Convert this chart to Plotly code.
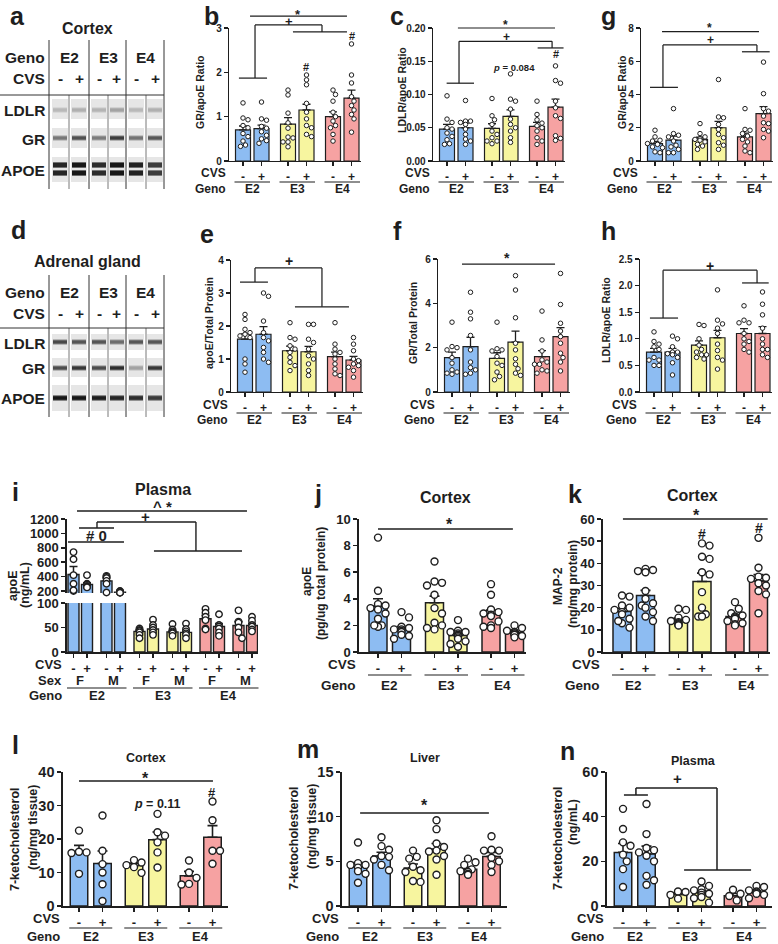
import plotly.graph_objects as go

W, H = 778, 944
FONT = "Liberation Sans, Arial, Helvetica, sans-serif"
INK = "#1e1e1e"
BLUE, YELLOW, PINK = "#8dbcf2", "#f7f59f", "#f6a2a2"

GENO = ["E2", "E3", "E4"]
CVS = ["-", "+"]
SEX = ["F", "M"]
PROTEINS = ["LDLR", "GR", "APOE"]

# ---------------- data ----------------
# b  GR/apoE ratio (cortex)
b_mean = [0.70, 0.73, 0.83, 1.15, 1.00, 1.42]
b_sem = [0.09, 0.08, 0.15, 0.13, 0.11, 0.18]
b_pts = [[1.31, 0.97, 0.93, 0.80, 0.75, 0.62, 0.55, 0.45, 0.36, 0.33],
         [1.33, 0.95, 0.92, 0.78, 0.74, 0.66, 0.58, 0.50, 0.46, 0.40],
         [1.60, 1.49, 1.08, 0.86, 0.74, 0.54, 0.52, 0.43, 0.43, 0.32],
         [1.94, 1.83, 1.72, 1.30, 1.10, 0.95, 0.80, 0.75, 0.60, 0.55],
         [1.60, 1.50, 1.35, 1.10, 1.00, 0.90, 0.80, 0.75, 0.60, 0.45],
         [2.64, 1.94, 1.76, 1.45, 1.35, 1.25, 1.15, 1.05, 0.95, 0.65]]
b_ticks = [0, 1, 2, 3]

# c  LDLR/apoE ratio (cortex)
c_mean = [0.048, 0.050, 0.049, 0.067, 0.052, 0.081]
c_sem = [0.007, 0.007, 0.007, 0.010, 0.006, 0.012]
c_pts = [[0.098, 0.063, 0.058, 0.050, 0.048, 0.042, 0.037, 0.032, 0.026, 0.025],
         [0.091, 0.060, 0.060, 0.058, 0.055, 0.048, 0.040, 0.033, 0.030, 0.025],
         [0.094, 0.068, 0.062, 0.055, 0.045, 0.040, 0.035, 0.030, 0.030, 0.026],
         [0.131, 0.093, 0.090, 0.078, 0.063, 0.055, 0.050, 0.045, 0.035, 0.028],
         [0.090, 0.070, 0.062, 0.057, 0.053, 0.050, 0.045, 0.035, 0.030, 0.025],
         [0.143, 0.121, 0.117, 0.090, 0.080, 0.068, 0.064, 0.038, 0.034, 0.031]]
c_ticks = [0, 0.05, 0.10, 0.15, 0.20]

# g  GR/apoE ratio
g_mean = [1.05, 1.25, 1.30, 2.00, 1.45, 2.85]
g_sem = [0.13, 0.25, 0.13, 0.38, 0.23, 0.42]
g_pts = [[1.85, 1.45, 1.25, 1.20, 1.05, 1.00, 0.85, 0.80, 0.55, 0.50],
         [3.15, 1.65, 1.55, 1.45, 1.20, 0.95, 0.85, 0.70, 0.50, 0.50],
         [2.25, 1.65, 1.45, 1.35, 1.30, 1.25, 1.15, 1.00, 0.90, 0.70],
         [4.90, 2.65, 2.60, 2.20, 1.90, 1.60, 1.40, 1.10, 0.95, 0.70],
         [3.15, 1.90, 1.85, 1.65, 1.50, 1.30, 1.15, 0.90, 0.60, 0.50],
         [5.95, 4.05, 3.15, 3.00, 2.70, 2.30, 2.25, 1.90, 1.80, 1.40]]
g_ticks = [0, 2, 4, 6, 8]

# e  apoE/Total protein (adrenal)
e_mean = [1.60, 1.75, 1.25, 1.22, 1.07, 0.97]
e_sem = [0.16, 0.23, 0.14, 0.16, 0.14, 0.11]
e_pts = [[2.35, 2.20, 1.90, 1.80, 1.75, 1.70, 1.65, 1.00, 0.85, 0.60],
         [3.00, 2.90, 2.15, 1.80, 1.65, 1.55, 1.35, 1.20, 1.00, 0.90],
         [2.10, 1.65, 1.60, 1.40, 1.30, 1.20, 1.05, 0.90, 0.80, 0.65],
         [2.05, 2.05, 1.60, 1.50, 1.30, 1.10, 1.00, 0.85, 0.65, 0.50],
         [2.10, 1.45, 1.30, 1.20, 1.15, 1.00, 0.85, 0.70, 0.55, 0.50],
         [1.65, 1.45, 1.25, 1.00, 0.95, 0.85, 0.80, 0.75, 0.65, 0.45]]
e_ticks = [0, 1, 2, 3, 4]

# f  GR/Total protein (adrenal)
f_mean = [1.55, 2.05, 1.52, 2.25, 1.60, 2.50]
f_sem = [0.25, 0.42, 0.25, 0.50, 0.27, 0.40]
f_pts = [[3.15, 2.05, 2.00, 1.90, 1.55, 1.30, 1.00, 0.85, 0.80, 0.90],
         [4.50, 3.60, 3.30, 2.55, 1.90, 1.35, 1.10, 1.00, 0.85, 0.80],
         [3.15, 1.95, 1.90, 1.85, 1.60, 1.30, 1.20, 0.90, 0.70, 0.55],
         [5.25, 4.60, 3.35, 2.20, 1.90, 1.50, 1.25, 1.05, 0.85, 0.75],
         [3.65, 2.35, 1.85, 1.45, 1.35, 1.25, 1.25, 1.00, 0.95, 0.85],
         [5.35, 3.95, 3.10, 2.75, 2.50, 2.20, 1.75, 1.55, 1.35, 0.95]]
f_ticks = [0, 2, 4, 6]

# h  LDLR/apoE ratio (adrenal)
h_mean = [0.75, 0.75, 0.88, 1.02, 1.10, 1.10]
h_sem = [0.07, 0.07, 0.08, 0.14, 0.09, 0.13]
h_pts = [[1.13, 0.95, 0.90, 0.85, 0.80, 0.65, 0.60, 0.50, 0.50, 0.60],
         [1.05, 1.00, 0.85, 0.75, 0.75, 0.72, 0.70, 0.65, 0.55, 0.32],
         [1.27, 1.25, 1.00, 0.88, 0.80, 0.75, 0.70, 0.70, 0.65, 0.62],
         [1.92, 1.35, 1.28, 1.20, 1.10, 0.90, 0.78, 0.65, 0.60, 0.43],
         [1.62, 1.35, 1.30, 1.30, 1.10, 1.00, 0.95, 0.90, 0.80, 0.75],
         [1.88, 1.65, 1.45, 1.20, 1.00, 0.90, 0.80, 0.80, 0.70, 0.65]]
h_ticks = [0, 0.5, 1.0, 1.5, 2.0, 2.5]

# i  plasma apoE (ng/mL), order: E2 F-,F+,M-,M+, E3 ..., E4 ...
i_mean = [430, 290, 340, 185, 42, 47, 41, 40, 68, 52, 54, 54]
i_sem = [110, 25, 40, 6, 3, 4.5, 3, 4, 7, 6, 8, 4.5]
i_pts = [[740, 640, 420, 300, 200, 210],
         [420, 300, 290, 270, 260, 250],
         [410, 400, 380, 340, 300, 180],
         [200, 195, 185, 180, 178, 175],
         [48, 45, 43, 40, 35, 28],
         [66, 55, 50, 45, 40, 35],
         [57, 46, 42, 40, 38, 33],
         [58, 47, 42, 38, 35, 28],
         [88, 80, 72, 65, 48, 46],
         [77, 55, 52, 48, 40, 33],
         [85, 62, 60, 50, 40, 28],
         [72, 64, 55, 52, 46, 42]]
i_low_ticks = [0, 50, 100]
i_up_ticks = [200, 400, 600, 800, 1000, 1200]

# j  cortex apoE (pg/ug total protein)
j_mean = [3.45, 1.75, 3.70, 1.25, 2.85, 1.45]
j_sem = [0.55, 0.17, 0.50, 0.15, 0.30, 0.08]
j_pts = [[8.6, 4.6, 3.6, 3.5, 3.3, 3.2, 2.9, 2.5, 2.0, 1.9, 2.0],
         [3.0, 2.6, 1.9, 1.8, 1.7, 1.7, 1.6, 1.5, 1.3, 1.2, 1.0],
         [6.8, 5.3, 5.2, 5.0, 4.3, 3.3, 2.9, 2.2, 1.8, 1.7, 2.0],
         [2.4, 1.6, 1.5, 1.5, 1.4, 1.3, 1.2, 1.1, 1.0, 0.8, 0.6, 0.4],
         [5.1, 4.3, 3.2, 3.0, 2.9, 2.8, 2.7, 2.3, 2.0, 1.9, 1.8],
         [2.0, 1.8, 1.6, 1.5, 1.5, 1.4, 1.4, 1.3, 1.3, 1.2, 1.1]]
j_ticks = [0, 2, 4, 6, 8, 10]

# k  cortex MAP-2 (ng/mg protein)
k_mean = [18.3, 25.5, 14.5, 31.8, 16.0, 32.0]
k_sem = [1.4, 2.3, 0.8, 3.8, 0.9, 2.9]
k_pts = [[25.5, 25, 21, 20, 19, 18, 17, 15, 13, 11, 14],
         [37.5, 37, 36.5, 36, 27.5, 24, 22, 21, 20, 18, 16, 14],
         [19.5, 19, 15.5, 14.5, 14, 13.5, 13, 12.5, 12, 12],
         [49, 48, 43, 42, 36, 35, 27, 20, 17, 16, 16],
         [22.5, 19.5, 17.5, 16.5, 16, 15.5, 15, 14, 13, 12.5, 12],
         [51.5, 38, 34, 33.5, 33, 31, 30, 27.5, 26, 17.5]]
k_ticks = [0, 10, 20, 30, 40, 50, 60]

# l  cortex 7-ketocholesterol (ng/mg tissue)
l_mean = [16.0, 12.7, 12.1, 19.8, 9.0, 20.5]
l_sem = [2.1, 3.7, 0.7, 2.3, 1.35, 3.5]
l_pts = [[22.5, 16.2, 16.0, 15.8, 9.6],
         [27.0, 16.5, 12.5, 10.0, 6.5, 1.5],
         [13.7, 13.0, 12.2, 11.6, 9.9],
         [27.5, 22.0, 21.0, 19.0, 16.0, 11.5],
         [13.6, 10.0, 8.4, 6.4, 6.6],
         [31.2, 25.6, 16.5, 16.5, 12.6]]
l_ticks = [0, 10, 20, 30, 40]

# m  liver 7-ketocholesterol (ng/mg tissue)
m_mean = [4.35, 5.60, 4.25, 6.35, 4.10, 5.55]
m_sem = [0.50, 0.42, 0.45, 0.65, 0.25, 0.45]
m_pts = [[7.1, 4.8, 4.6, 4.6, 4.3, 3.9, 3.6, 2.6],
         [7.7, 6.7, 6.3, 5.6, 5.5, 5.2, 4.6, 4.0],
         [6.2, 5.5, 5.3, 4.4, 4.0, 3.8, 2.8, 2.7],
         [9.6, 8.6, 7.0, 6.6, 6.2, 6.1, 5.6, 5.2, 3.5],
         [5.3, 4.9, 4.6, 4.1, 3.9, 3.8, 3.6, 3.5],
         [7.8, 6.3, 6.2, 6.2, 5.4, 5.0, 4.6, 3.8]]
m_ticks = [0, 5, 10, 15]

# n  plasma 7-ketocholesterol (ng/mL)
n_mean = [24.0, 23.3, 5.2, 6.0, 4.6, 6.1]
n_sem = [4.0, 3.5, 0.75, 0.9, 1.0, 0.7]
n_pts = [[43.5, 34.5, 28.5, 27.0, 23.0, 20.0, 16.5, 8.5],
         [45.7, 32.2, 26.0, 25.0, 24.0, 22.5, 20.0, 13.5, 11.5, 9.5],
         [6.5, 6.3, 5.0, 3.3],
         [11.0, 9.0, 7.5, 7.0, 6.0, 5.5, 5.0, 4.0, 3.5, 1.5],
         [7.3, 5.5, 4.5, 2.5],
         [9.0, 8.5, 7.0, 6.5, 6.0, 5.5, 5.0, 3.5]]
n_ticks = [0, 20, 40, 60]

# western blot band darkness (0 = none, 1 = black), lanes E2-,E2+,E3-,E3+,E4-,E4+
ctx_ldlr = [0.20, 0.24, 0.22, 0.30, 0.20, 0.24]
ctx_gr = [0.50, 0.68, 0.48, 0.78, 0.52, 0.65]
ctx_apoe = [0.88, 0.95, 0.85, 0.95, 0.90, 0.78]
adr_ldlr = [0.72, 0.66, 0.66, 0.55, 0.66, 0.66]
adr_gr = [0.70, 0.80, 0.70, 0.85, 0.30, 0.80]
adr_apoe = [0.95, 0.95, 0.92, 0.88, 0.85, 0.78]

# ---------------- helpers ----------------
def X(px):
    return px / W


def Y(py):
    return 1 - py / H


shapes, annos = [], []
layout = {}
fig = go.Figure()


def txt(px, py, s, size, xanchor="center", yanchor="middle", angle=0):
    annos.append(dict(x=X(px), y=Y(py), xref="paper", yref="paper", text=s, showarrow=False,
                      font=dict(family=FONT, size=size, color=INK, weight="bold"),
                      xanchor=xanchor, yanchor=yanchor, textangle=angle, borderpad=0))


def seg(x0, y0, x1, y1, w=1.2, color=INK):
    shapes.append(dict(type="line", xref="paper", yref="paper", x0=X(x0), y0=Y(y0), x1=X(x1), y1=Y(y1),
                       line=dict(color=color, width=w)))


def rect(x0, y0, x1, y1, color, opacity=1.0):
    shapes.append(dict(type="rect", xref="paper", yref="paper", x0=X(x0), y0=Y(y0), x1=X(x1), y1=Y(y1),
                       fillcolor=color, line=dict(width=0), opacity=opacity, layer="below"))


def swarm(vals, ppu, dot, halfw, base=0.0):
    order = sorted(range(len(vals)), key=lambda i: -vals[i])
    placed, offs = [], [0.0] * len(vals)
    for i in order:
        y = (vals[i] - base) * ppu
        best = None
        for j in range(0, 14):
            for sgn in ([0] if j == 0 else [1, -1]):
                c = sgn * j * dot * 0.5
                if abs(c) > halfw:
                    continue
                if all((c - a) ** 2 + (y - b) ** 2 >= (dot * 0.92) ** 2 for a, b in placed):
                    best = c
                    break
            if best is not None:
                break
        if best is None:
            best = 0.0
        placed.append((best, y))
        offs[i] = best
    return offs


ROWS = {
    "s": dict(off=14, unit=18.5, step=45, bw=15, pad=9, tfs=10, lfs=12, gfs=12, dot=4.5, dlw=1.0, blw=1.2,
              ecap=4, elw=1.3, alw=1.3),
    "m": dict(off=19, unit=23.5, step=56.5, bw=18, pad=11, tfs=13, lfs=13, gfs=13.5, dot=7, dlw=1.4, blw=1.5,
              ecap=5, elw=1.6, alw=1.6),
    "l": dict(off=16, unit=23.5, step=55, bw=17.5, pad=15, tfs=14.5, lfs=13, gfs=13, dot=7, dlw=1.4, blw=1.5,
              ecap=5, elw=1.6, alw=1.6),
}
BAR_COLORS = [BLUE, BLUE, YELLOW, YELLOW, PINK, PINK]

PANELS = [
    dict(key="b", row="s", left=229, y0=161, top_px=28, mean=b_mean, sem=b_sem, pts=b_pts, ticks=b_ticks,
         fmt="{:.0f}", ytitle=[("GR/apoE Ratio", 200, 92)], yfs=10.5, cvs_y=173, ul_y=182, geno_y=189,
         lines=[[(0.38, 3.27), (5.62, 3.27)], [(-0.22, 1.87), (1.3, 1.87)],
                [(0.65, 1.87), (0.65, 3.07), (4.27, 3.07), (4.27, 2.91)], [(2.7, 2.91), (5.62, 2.91)]],
         marks=[(2.97, 3.3, "*", 13), (2.46, 3.15, "+", 13), (3.432, 2.12, "#", 11), (5.865, 2.81, "#", 11)]),
    dict(key="c", row="s", left=433, y0=161, top_px=28, mean=c_mean, sem=c_sem, pts=c_pts, ticks=c_ticks,
         fmt="{:.2f}", ytitle=[("LDLR/apoE Ratio", 402, 90)], yfs=10.5, cvs_y=173, ul_y=182, geno_y=189,
         lines=[[(0.59, 0.200), (5.84, 0.200)], [(-0.02, 0.117), (1.46, 0.117)],
                [(0.65, 0.117), (0.65, 0.180), (5.68, 0.180), (5.68, 0.170)], [(4.9, 0.170), (6.3, 0.170)]],
         marks=[(3.14, 0.205, "*", 12), (3.2, 0.187, "+", 12), (3.62, 0.141, "<i>p</i> = 0.084", 9.5),
                (5.865, 0.161, "#", 11)]),
    dict(key="g", row="s", left=641, y0=161, top_px=28, mean=g_mean, sem=g_sem, pts=g_pts, ticks=g_ticks,
         fmt="{:.0f}", ytitle=[("GR/apoE Ratio", 622, 92)], yfs=10.5, cvs_y=173, ul_y=182, geno_y=189,
         lines=[[(0.38, 7.78), (5.62, 7.78)], [(-0.27, 4.43), (1.24, 4.43)],
                [(0.43, 4.43), (0.43, 6.98), (5.51, 6.98), (5.51, 6.57)], [(4.7, 6.57), (6.2, 6.57)]],
         marks=[(2.92, 7.97, "*", 12), (3.0, 7.28, "+", 12)]),
    dict(key="e", row="s", left=231, y0=392, top_px=260, mean=e_mean, sem=e_sem, pts=e_pts, ticks=e_ticks,
         fmt="{:.0f}", ytitle=[("apoE/Total Protein", 209, 323)], yfs=10.5, cvs_y=405, ul_y=413, geno_y=420,
         lines=[[(-0.27, 3.33), (1.24, 3.33)], [(0.54, 3.33), (0.54, 3.76), (4.16, 3.76), (4.16, 2.58)],
                [(2.7, 2.58), (5.62, 2.58)]],
         marks=[(2.4, 3.97, "+", 14)]),
    dict(key="f", row="s", left=438, y0=392, top_px=259, mean=f_mean, sem=f_sem, pts=f_pts, ticks=f_ticks,
         fmt="{:.0f}", ytitle=[("GR/Total Protein", 413, 323)], yfs=10.5, cvs_y=405, ul_y=413, geno_y=420,
         lines=[[(0.54, 5.77), (5.57, 5.77)]],
         marks=[(2.97, 6.04, "*", 14)]),
    dict(key="h", row="s", left=640, y0=392, top_px=259, mean=h_mean, sem=h_sem, pts=h_pts, ticks=h_ticks,
         fmt="{:.1f}", ytitle=[("LDLR/apoE Ratio", 606, 320)], yfs=10.5, cvs_y=405, ul_y=413, geno_y=420,
         lines=[[(-0.22, 1.39), (1.3, 1.39)], [(0.49, 1.39), (0.49, 2.29), (5.57, 2.29), (5.57, 2.05)],
                [(4.76, 2.05), (6.2, 2.05)]],
         marks=[(3.05, 2.37, "+", 14)]),
    dict(key="j", row="m", left=359, y0=652, top_px=519, mean=j_mean, sem=j_sem, pts=j_pts, ticks=j_ticks,
         fmt="{:.0f}", ytitle=[("apoE", 307, 582), ("(pg/ug total protein)", 321, 584)], yfs=12,
         cvs_y=664, ul_y=675, geno_y=685,
         lines=[[(0.0, 9.25), (5.74, 9.25)]],
         marks=[(3.06, 9.55, "*", 16)]),
    dict(key="k", row="m", left=603, y0=652, top_px=519, mean=k_mean, sem=k_sem, pts=k_pts, ticks=k_ticks,
         fmt="{:.0f}", ytitle=[("MAP-2", 558, 586), ("(ng/mg protein)", 573, 584)], yfs=12,
         cvs_y=664, ul_y=675, geno_y=685,
         lines=[[(0.04, 60), (6.2, 60)]],
         marks=[(3.19, 61.8, "*", 16), (3.404, 53.2, "#", 14), (5.809, 55.9, "#", 14)]),
    dict(key="l", row="l", left=63, y0=906, top_px=772, mean=l_mean, sem=l_sem, pts=l_pts, ticks=l_ticks,
         fmt="{:.0f}", ytitle=[("7-ketocholesterol", 15, 839), ("(ng/mg tissue)", 33, 828)], yfs=12.5,
         cvs_y=918, ul_y=928, geno_y=936,
         lines=[[(0.0, 37.3), (5.7, 37.3)]],
         marks=[(2.85, 38.2, "*", 16), (3.32, 30.4, "<i>p</i> = 0.11", 12.5), (5.68, 34, "#", 13)]),
    dict(key="m", row="l", left=342, y0=906, top_px=772, mean=m_mean, sem=m_sem, pts=m_pts, ticks=m_ticks,
         fmt="{:.0f}", ytitle=[("7-ketocholesterol", 294, 838), ("(ng/mg tissue)", 312, 827)], yfs=12.5,
         cvs_y=918, ul_y=928, geno_y=936,
         lines=[[(0.09, 10.4), (5.57, 10.4)]],
         marks=[(2.85, 11.3, "*", 16)]),
    dict(key="n", row="l", left=607, y0=906, top_px=772, mean=n_mean, sem=n_sem, pts=n_pts, ticks=n_ticks,
         fmt="{:.0f}", ytitle=[("7-ketocholesterol", 558, 838), ("(ng/mL)", 573, 822)], yfs=12.5,
         cvs_y=918, ul_y=928, geno_y=936,
         lines=[[(0.04, 49.7), (1.06, 49.7)], [(0.55, 49.7), (0.55, 52.8), (4.0, 52.8), (4.0, 16.1)],
                [(2.6, 16.1), (5.45, 16.1)]],
         marks=[(2.3, 56.9, "+", 15)]),
]


def axis_common(lw, fs):
    return dict(showline=True, linecolor=INK, linewidth=lw, ticks="outside", ticklen=4, tickwidth=lw,
                tickcolor=INK, showgrid=False, zeroline=False, fixedrange=True, automargin=False,
                tickfont=dict(family=FONT, size=fs, color=INK, weight="bold"))


for k, P in enumerate(PANELS, start=1):
    R = ROWS[P["row"]]
    unit = R["unit"]
    s = R["step"] / unit
    pos = [0, 1, s, s + 1, 2 * s, 2 * s + 1]
    c0 = P["left"] + R["off"]
    right = c0 + (2 * s + 1) * unit + R["pad"]
    top = P["ticks"][-1]
    ppu = (P["y0"] - P["top_px"]) / top

    xa = axis_common(R["alw"], R["lfs"])
    xa.update(domain=[X(P["left"]), X(right)], range=[-R["off"] / unit, (right - c0) / unit],
              anchor=f"y{k}", tickvals=pos, ticktext=CVS * 3)
    ya = axis_common(R["alw"], R["tfs"])
    ya.update(domain=[Y(P["y0"]), Y(P["top_px"])], range=[0, top], anchor=f"x{k}",
              tickvals=P["ticks"], ticktext=[P["fmt"].format(t) for t in P["ticks"]])
    layout[f"xaxis{k}"] = xa
    layout[f"yaxis{k}"] = ya

    fig.add_trace(go.Bar(x=pos, y=P["mean"], width=R["bw"] / unit,
                         marker=dict(color=BAR_COLORS, line=dict(color=INK, width=R["blw"])),
                         error_y=dict(type="data", array=P["sem"], arrayminus=[0] * 6, symmetric=False,
                                      color=INK, thickness=R["elw"], width=R["ecap"]),
                         xaxis=f"x{k}", yaxis=f"y{k}", showlegend=False, hoverinfo="skip"))
    xs, ys = [], []
    for bi, vals in enumerate(P["pts"]):
        offs = swarm(vals, ppu, R["dot"] + 0.5, R["bw"] / 2 + 1)
        xs += [pos[bi] + o / unit for o in offs]
        ys += vals
    fig.add_trace(go.Scatter(x=xs, y=ys, mode="markers", cliponaxis=False,
                             marker=dict(size=R["dot"], color="white", line=dict(color=INK, width=R["dlw"])),
                             xaxis=f"x{k}", yaxis=f"y{k}", showlegend=False, hoverinfo="skip"))

    # brackets
    def px_x(xd):
        return c0 + xd * unit

    def px_y(v):
        return P["y0"] - v * ppu

    for line in P["lines"]:
        for (xa0, ya0), (xa1, ya1) in zip(line[:-1], line[1:]):
            seg(px_x(xa0), px_y(ya0), px_x(xa1), px_y(ya1), w=R["alw"] * 0.95)
    for xd, v, t, fs in P["marks"]:
        txt(px_x(xd), px_y(v), t, fs)

    # axis captions
    for t, tx, ty in P["ytitle"]:
        txt(tx, ty, t, P["yfs"], angle=-90)
    txt(P["left"] - 2, P["cvs_y"], "CVS", R["gfs"], xanchor="right")
    txt(P["left"] - 2, P["geno_y"], "Geno", R["gfs"], xanchor="right")
    for gi in range(3):
        a = px_x(pos[2 * gi]) - R["bw"] / 2 - 1
        b = px_x(pos[2 * gi + 1]) + R["bw"] / 2 + 1
        seg(a, P["ul_y"], b, P["ul_y"], w=1.1)
        txt((a + b) / 2, P["geno_y"], GENO[gi], R["gfs"])

# ---------------- panel i (broken axis) ----------------
ki_lo, ki_up = len(PANELS) + 1, len(PANELS) + 2
i_left, i_c0, i_unit, i_right = 67, 73.5, 13.5, 258
i_pos = [g * 66 / i_unit + sx * 33 / i_unit + cv for g in range(3) for sx in range(2) for cv in range(2)]
i_colors = [BLUE] * 4 + [YELLOW] * 4 + [PINK] * 4
i_xr = [(i_left - i_c0) / i_unit, (i_right - i_c0) / i_unit]
lo_y0, lo_top = 652, 603
up_y0, up_top = 593, 519
up_ppu = (591 - 519) / 1000.0
up_min = 200 - (up_y0 - 591) / up_ppu
lo_ppu = (lo_y0 - lo_top) / 100.0

xa = axis_common(1.6, 13)
xa.update(domain=[X(i_left), X(i_right)], range=i_xr, anchor=f"y{ki_lo}", tickvals=i_pos, ticktext=CVS * 6)
layout[f"xaxis{ki_lo}"] = xa
ya = axis_common(1.6, 13)
ya.update(domain=[Y(lo_y0), Y(lo_top)], range=[0, 100], anchor=f"x{ki_lo}", tickvals=i_low_ticks,
          ticktext=[str(t) for t in i_low_ticks])
layout[f"yaxis{ki_lo}"] = ya
layout[f"xaxis{ki_up}"] = dict(domain=[X(i_left), X(i_right)], range=i_xr, anchor=f"y{ki_up}", visible=False,
                               fixedrange=True, automargin=False)
ya = axis_common(1.6, 13)
ya.update(domain=[Y(up_y0), Y(up_top)], range=[up_min, 1200], anchor=f"x{ki_up}", tickvals=i_up_ticks,
          ticktext=[str(t) for t in i_up_ticks])
layout[f"yaxis{ki_up}"] = ya

for kk in (ki_lo, ki_up):
    fig.add_trace(go.Bar(x=i_pos, y=i_mean, width=11 / i_unit,
                         marker=dict(color=i_colors, line=dict(color=INK, width=1.4)),
                         error_y=dict(type="data", array=i_sem, arrayminus=[0] * 12, symmetric=False,
                                      color=INK, thickness=1.5, width=4),
                         xaxis=f"x{kk}", yaxis=f"y{kk}", showlegend=False, hoverinfo="skip"))
for kk, sel, ppu_, base in ((ki_up, range(0, 4), up_ppu, 200), (ki_lo, range(4, 12), lo_ppu, 0)):
    xs, ys = [], []
    for bi in sel:
        offs = swarm(i_pts[bi], ppu_, 7, 6.5, base=base)
        xs += [i_pos[bi] + o / i_unit for o in offs]
        ys += i_pts[bi]
    fig.add_trace(go.Scatter(x=xs, y=ys, mode="markers", cliponaxis=False,
                             marker=dict(size=6.5, color="white", line=dict(color=INK, width=1.4)),
                             xaxis=f"x{kk}", yaxis=f"y{kk}", showlegend=False, hoverinfo="skip"))


def ix(xd):
    return i_c0 + xd * i_unit


def iy(v):
    return 591 - (v - 200) * up_ppu


i_lines = [[(0.26, 1311), (12.85, 1311)], [(0.41, 1075), (3.0, 1075)],
           [(1.74, 1075), (1.74, 1158), (9.07, 1158), (9.07, 756)], [(5.96, 756), (12.48, 756)],
           [(-0.41, 881), (3.74, 881)]]
for line in i_lines:
    for (a0, b0), (a1, b1) in zip(line[:-1], line[1:]):
        seg(ix(a0), iy(b0), ix(a1), iy(b1), w=1.4)
for xd, v, t, fs in [(6.6, 1367, "^ *", 15), (5.37, 1228, "+", 15), (1.7, 964, "# 0", 15)]:
    txt(ix(xd), iy(v), t, fs)
txt(13, 585, "apoE", 12.5, angle=-90)
txt(25, 585, "(ng/mL)", 12.5, angle=-90)
txt(i_left - 4, 664, "CVS", 13, xanchor="right")
txt(i_left - 4, 680, "Sex", 13, xanchor="right")
txt(i_left - 4, 695, "Geno", 13, xanchor="right")
for gi in range(3):
    a = ix(i_pos[4 * gi]) - 6.5
    b = ix(i_pos[4 * gi + 3]) + 6.5
    seg(a, 688, b, 688, w=1.1)
    txt((a + b) / 2, 695, GENO[gi], 13)
    for si in range(2):
        txt((ix(i_pos[4 * gi + 2 * si]) + ix(i_pos[4 * gi + 2 * si + 1])) / 2, 680, SEX[si], 13)

# ---------------- western blots (a, d) ----------------
LANES = [(52, 68), (71, 87), (91, 107), (109, 125), (128, 144), (147, 163)]


def band_color(d):
    g = int(228 - d * 215)
    return f"rgb({g},{g},{g})"


def blot(title, title_y, geno_y, cvs_y, table_top, hline_y, bottom, rows):
    txt(87, title_y, title, 16)
    for xv in (49, 89, 126, 164):
        seg(xv, table_top, xv, bottom, w=1.0, color="#333")
    for xv in (69, 108, 146):
        seg(xv, hline_y, xv, bottom, w=0.8, color="#555")
    seg(0, hline_y, 164, hline_y, w=1.0, color="#333")
    txt(46, geno_y, "Geno", 15.5, xanchor="right")
    txt(46, cvs_y, "CVS", 15.5, xanchor="right")
    for gi, cx in enumerate((69, 108, 145)):
        txt(cx, geno_y, GENO[gi], 15.5)
    for li, (a, b) in enumerate(LANES):
        txt((a + b) / 2, cvs_y, CVS[li % 2], 15.5)
    for name, (ya0, ya1), centers, hh, dark in rows:
        txt(46, (ya0 + ya1) / 2 + 1, name, 15.5, xanchor="right")
        for li, (a, b) in enumerate(LANES):
            rect(a, ya0, b, ya1, "#e6e6e6")
            for cy in centers:
                rect(a + 1, cy - hh / 2 - 1, b - 1, cy + hh / 2 + 1, band_color(dark[li] * 0.6))
                rect(a + 1, cy - hh / 2, b - 1, cy + hh / 2, band_color(dark[li]))


blot("Cortex", 28, 58, 79, 40, 95, 189,
     [("LDLR", (99, 119), [110], 3, ctx_ldlr),
      ("GR", (128, 148), [138], 3, ctx_gr),
      ("APOE", (157, 182), [165, 173], 4, ctx_apoe)])
blot("Adrenal gland", 261, 292, 313, 275, 328, 417,
     [("LDLR", (334, 350), [342], 3, adr_ldlr),
      ("GR", (358, 377), [368], 3, adr_gr),
      ("APOE", (385, 411), [398], 3.5, adr_apoe)])

# ---------------- titles & panel letters ----------------
txt(163, 490, "Plasma", 16)
txt(445, 497, "Cortex", 16)
txt(692, 495, "Cortex", 16)
txt(146, 758, "Cortex", 12.5)
txt(425, 758, "Liver", 12.5)
txt(693, 761, "Plasma", 12.5)

for letter, lx in [("a", 17), ("b", 211), ("c", 397), ("g", 608)]:
    txt(lx, 0.5, letter, 25, yanchor="top")
for letter, lx, ly in [("d", 18, 230), ("e", 207, 234), ("f", 397, 231), ("h", 608, 231),
                       ("i", 15, 492), ("j", 318, 494), ("k", 575, 494),
                       ("l", 15, 745), ("m", 308, 749), ("n", 567, 751)]:
    txt(lx, ly, letter, 25)

fig.update_layout(template="none", width=W, height=H, margin=dict(l=0, r=0, t=0, b=0, pad=0, autoexpand=False),
                  paper_bgcolor="white", plot_bgcolor="rgba(0,0,0,0)", showlegend=False, bargap=0,
                  shapes=shapes, annotations=annos, font=dict(family=FONT, color=INK), **layout)
fig.write_html("out.html", config={"displayModeBar": False, "staticPlot": True},
               post_script="document.body.style.margin='0px';document.body.style.padding='0px';")
